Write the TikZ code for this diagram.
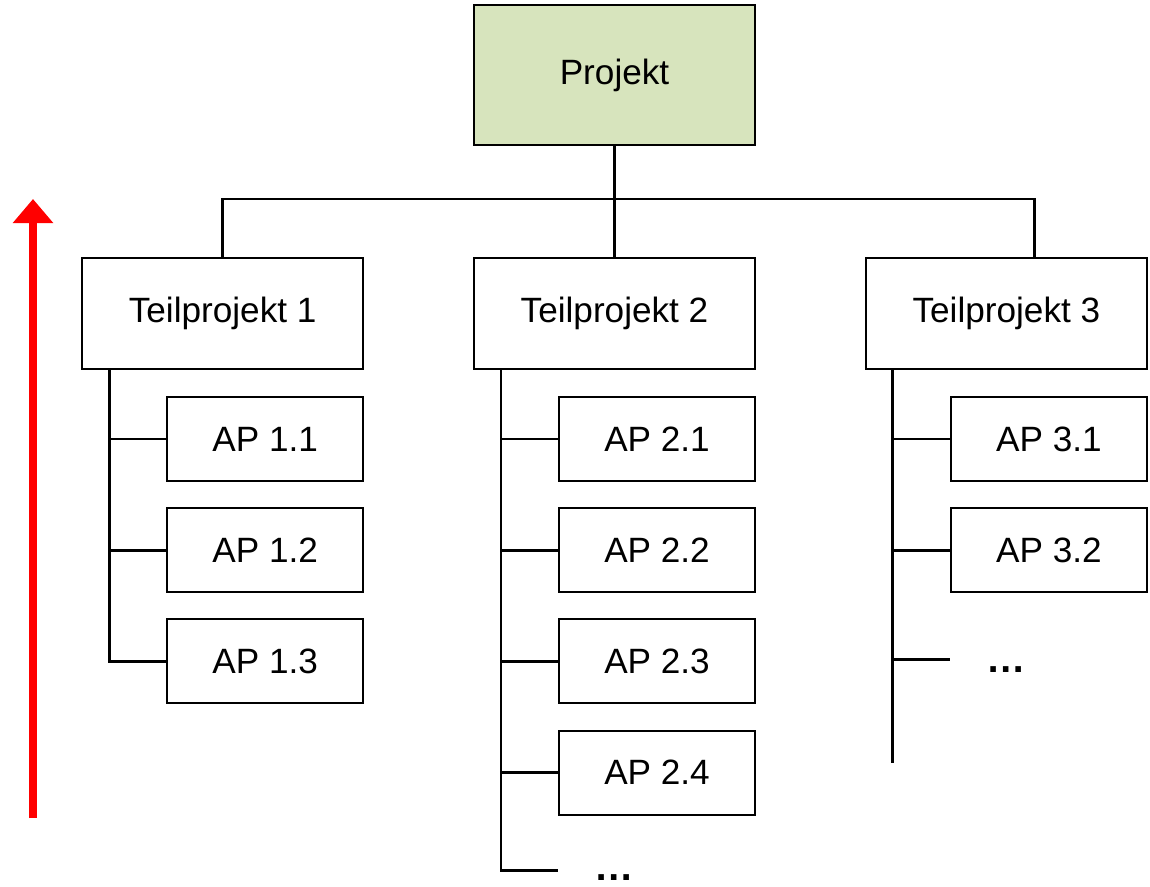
\documentclass[tikz,border=0pt]{standalone}
\usepackage{fontspec}
\setmainfont{Liberation Sans}
\usepackage{tikz}
\usetikzlibrary{positioning, arrows.meta}

\definecolor{projektgruen}{HTML}{D7E4BD}

\begin{document}
\begin{tikzpicture}[x=0.025cm, y=-0.025cm]

	\tikzstyle{line} = [line width=2pt]
	\tikzstyle{box} = [draw, line width=1.4pt, text centered, font=\fontsize{25pt}{30pt}\selectfont]
	\tikzstyle{tpbox} = [box, minimum width=7.025cm, minimum height=2.775cm]
	\tikzstyle{apbox} = [box, minimum width=4.9cm, minimum height=2.1cm]
	\tikzstyle{dots} = [anchor=base, font=\fontsize{28pt}{30pt}\selectfont\bfseries]
	\tikzstyle{pfeil} = [red, line width=0.175cm, -{Triangle[width=0.975cm, length=0.6cm]}]

	\useasboundingbox (0,0) rectangle (1150,887);

	\node[box, minimum width=7.025cm, minimum height=3.5cm, fill=projektgruen] (projekt) at (614.5,75) {Projekt};
	\node[tpbox, below=2.775cm of projekt] (tp2) {Teilprojekt 2};
	\node[tpbox, left=2.72cm of tp2] (tp1) {Teilprojekt 1};
	\node[tpbox, right=2.72cm of tp2] (tp3) {Teilprojekt 3};

	% Arbeitspakete
	\node[apbox, below left=0.65cm and 0cm of tp1.south east] (ap11) {AP 1.1};
	\node[apbox, below=0.63cm of ap11] (ap12) {AP 1.2};
	\node[apbox, below=0.63cm of ap12] (ap13) {AP 1.3};
	\node[apbox, below left=0.65cm and 0cm of tp2.south east] (ap21) {AP 2.1};
	\node[apbox, below=0.63cm of ap21] (ap22) {AP 2.2};
	\node[apbox, below=0.63cm of ap22] (ap23) {AP 2.3};
	\node[apbox, below=0.63cm of ap23] (ap24) {AP 2.4};
	\node[apbox, below left=0.65cm and 0cm of tp3.south east] (ap31) {AP 3.1};
	\node[apbox, below=0.63cm of ap31] (ap32) {AP 3.2};

	% Projekt -> Teilprojekte
	\coordinate (tp3in) at ([xshift=0.7cm]tp3.north);
	\draw[line] (projekt) -- (tp2);
	\draw[line] (tp1.north) -- ++(0,1.45cm) -| (tp3in);

	% Teilprojekt 1
	\coordinate (sp1) at ([xshift=0.7cm]tp1.south west);
	\draw[line] (sp1) |- (ap13.west);
	\draw[line] (sp1 |- ap11.west) -- (ap11.west);
	\draw[line] (sp1 |- ap12.west) -- (ap12.west);

	% Teilprojekt 2
	\coordinate (sp2) at ([xshift=0.7cm]tp2.south west);
	\coordinate (ap25) at ([yshift=-2.45cm]ap24.west);
	\coordinate (d2) at (tp2 |- ap24.base);
	\draw[line] (sp2) |- (ap25);
	\draw[line] (sp2 |- ap21.west) -- (ap21.west);
	\draw[line] (sp2 |- ap22.west) -- (ap22.west);
	\draw[line] (sp2 |- ap23.west) -- (ap23.west);
	\draw[line] (sp2 |- ap24.west) -- (ap24.west);
	\node[dots] (dots2) at ([yshift=-2.38cm]d2) {…};

	% Teilprojekt 3
	\coordinate (sp3) at ([xshift=0.7cm]tp3.south west);
	\coordinate (sp3end) at ([yshift=-9.825cm]sp3);
	\coordinate (ap33) at ([yshift=-2.725cm]ap32.west);
	\coordinate (d3) at (tp3 |- ap32.base);
	\draw[line] (sp3) -- (sp3end);
	\draw[line] (sp3 |- ap31.west) -- (ap31.west);
	\draw[line] (sp3 |- ap32.west) -- (ap32.west);
	\draw[line] (sp3 |- ap33) -- (ap33);
	\node[dots] (dots3) at ([yshift=-2.75cm]d3) {…};

	% Pfeil
	\coordinate (pfeilunten) at (33,818);
	\coordinate (pfeiloben) at (33,199);
	\draw[pfeil] (pfeilunten) -- (pfeiloben);

\end{tikzpicture}
\end{document}
